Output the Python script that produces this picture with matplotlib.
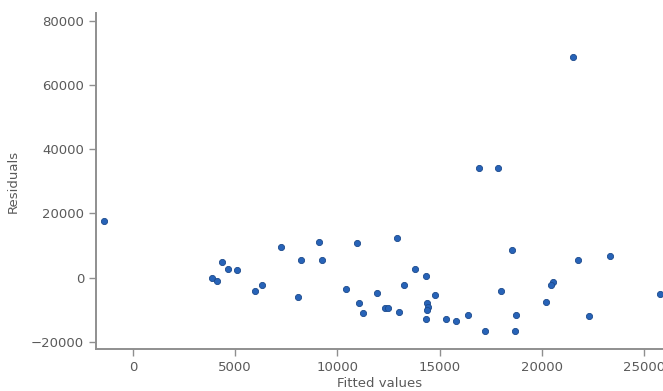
import matplotlib.pyplot as plt
import numpy as np

# fitted values and residuals from the regression, one pair per observation
fitted = [
    -1400, 16930, 17840, 21540,
    7225, 4350, 4630, 5100, 3880, 4090, 6310, 5950,
    9110, 10970, 12930, 8220, 9260, 13780, 14320, 8060, 10420, 11920,
    13240, 14790, 11060, 11270, 12330, 12490, 13000, 14370, 14450, 14400,
    14350, 15300, 15800, 16390,
    18540, 21770, 23320, 20530, 20460, 18020, 20190, 25780, 18740, 22310,
    17200, 18690,
]
residuals = [
    17650, 34120, 34300, 68800,
    9600, 4940, 2750, 2250, -60, -1000, -2440, -4310,
    11190, 10880, 12250, 5470, 5370, 2660, 380, -6090, -3590, -4840,
    -2250, -5470, -8060, -11000, -9440, -9440, -10780, -8000, -9100, -10100,
    -13060, -13060, -13690, -11720,
    8590, 5470, 6810, -1310, -2250, -4220, -7750, -5160, -11810, -12130,
    -16620, -16620,
]

x_ticks = [0, 5000, 10000, 15000, 20000, 25000]
y_ticks = [-20000, 0, 20000, 40000, 60000, 80000]

fig = plt.figure(figsize=(6.63, 3.91), dpi=100)
ax = fig.add_axes([0.1448, 0.1074, 0.8552, 0.8594])

ax.scatter(fitted, residuals, s=20, color="#2763b8", edgecolors="#1c4a8c",
           linewidths=0.6, zorder=3)

ax.set_xlim(-1810, 25930)
ax.set_ylim(-22340, 82650)
ax.set_xticks(x_ticks)
ax.set_yticks(y_ticks)

gray = "#8f8f8f"
for side in ("top", "right"):
    ax.spines[side].set_visible(False)
for side in ("left", "bottom"):
    ax.spines[side].set_color(gray)
    ax.spines[side].set_linewidth(1.4)

ax.tick_params(axis="both", colors=gray, length=5, width=1.0,
               labelsize=9.5, labelcolor="#5a5a5a")
ax.set_xlabel("Fitted values", fontsize=9.5, color="#5a5a5a", labelpad=2)
ax.set_ylabel("Residuals", fontsize=9.5, color="#5a5a5a", labelpad=8)

fig.savefig("out.png", dpi=100)
